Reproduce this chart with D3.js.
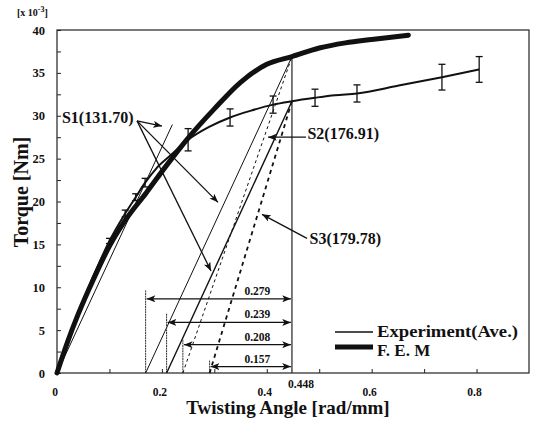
<!DOCTYPE html>
<html>
<head>
<meta charset="utf-8">
<script src="https://cdn.jsdelivr.net/npm/d3@7"></script>
<style>
  html, body { margin: 0; padding: 0; background: #fff; }
  svg text { font-family: "Liberation Serif", "DejaVu Serif", serif; font-weight: bold; fill: #111; }
</style>
</head>
<body>
<div id="chart"></div>
<script>
// chart values (torque in x10^-3 Nm, angle in rad/mm)
const femX = [0, 0.02, 0.04, 0.07, 0.10, 0.13, 0.17, 0.21, 0.25, 0.30, 0.35, 0.40, 0.448, 0.50, 0.55, 0.60, 0.67];
const femY = [0, 3.6, 6.8, 11.0, 14.8, 17.8, 21.0, 24.3, 27.4, 30.8, 33.9, 36.0, 36.9, 37.9, 38.5, 38.9, 39.4];

const expX = [0, 0.02, 0.04, 0.07, 0.10, 0.13, 0.15, 0.168, 0.19, 0.215, 0.25, 0.29, 0.33, 0.37, 0.412, 0.448, 0.492, 0.53, 0.572, 0.65, 0.734, 0.805];
const expY = [0, 3.7, 7.0, 11.4, 15.4, 18.6, 20.5, 22.2, 23.9, 25.3, 27.2, 28.7, 29.8, 30.6, 31.3, 31.7, 32.1, 32.4, 32.6, 33.5, 34.5, 35.4];

const errX = [0.10, 0.13, 0.15, 0.168, 0.25, 0.33, 0.412, 0.492, 0.572, 0.734, 0.805];
const errY = [15.4, 18.6, 20.5, 22.2, 27.2, 29.8, 31.3, 32.1, 32.6, 34.5, 35.4];
const errHalf = [0.3, 0.4, 0.4, 0.5, 1.3, 1.0, 1.0, 1.0, 1.0, 1.5, 1.5];

// S1 initial slope line from origin
const s1Slope = 131.70;
const s1End = 0.22;

// unloading lines: offsets from 0.448, target torque at 0.448, style
const refAngle = 0.448;
const offsets = ['0.279', '0.239', '0.208', '0.157'];
const offsetTargetY = [36.9, 31.7, 36.9, 31.7];
const offsetStyle = ['thin', 'solid', 'fine', 'thick'];
const offsetMarkTop = [9.7, 7.0, 3.9, 1.5];   // top of vertical marker
const offsetArrowY = [8.65, 5.9, 3.3, 0.75];  // dimension arrow height

// annotations (data coords)
const annoLabels = ['S1(131.70)', 'S2(176.91)', 'S3(179.78)'];
const annoTextX = [0.0095, 0.4775, 0.4815];
const annoTextY = [29.1, 27.3, 15.0];
const annoFrom = [[0.1526, 29.4], [0.1526, 29.4], [0.1526, 29.4], [0.4748, 27.5], [0.4767, 15.7]];
const annoTo = [[0.2002, 28.8], [0.307, 19.9], [0.2937, 11.9], [0.4024, 27.5], [0.3909, 18.5]];

const xTicksMinor = d3.range(1, 9).map(d => d / 10);
const xTickLabels = ['0', '0.2', '0.4', '0.448', '0.6', '0.8'];
const yTicksMinor = d3.range(0, 41, 2.5);
const yTickLabels = ['0', '5', '10', '15', '20', '25', '30', '35', '40'];

const legendNames = ['Experiment(Ave.)', 'F. E. M'];
const legendWidths = [1.5, 5];

const width = 534, height = 423;
const svg = d3.select('#chart').append('svg').attr('width', width).attr('height', height);

const x = d3.scaleLinear().domain([0, 0.9]).range([57, 529]);
const y = d3.scaleLinear().domain([0, 40]).range([373, 30]);

// arrowhead
const defs = svg.append('defs');
defs.append('marker')
  .attr('id', 'arr')
  .attr('viewBox', '0 0 10 8')
  .attr('refX', 10).attr('refY', 4)
  .attr('markerWidth', 9).attr('markerHeight', 7)
  .attr('markerUnits', 'userSpaceOnUse')
  .attr('orient', 'auto-start-reverse')
  .append('path').attr('d', 'M0,0 L10,4 L0,8 L2.5,4 z').attr('fill', '#111');

// frame
svg.append('rect')
  .attr('x', x(0)).attr('y', y(40))
  .attr('width', x(0.9) - x(0)).attr('height', y(0) - y(40))
  .attr('fill', 'none').attr('stroke', '#222').attr('stroke-width', 1.2);

// inward ticks
svg.append('g').attr('transform', `translate(0,${y(0)})`)
  .call(d3.axisBottom(x).tickValues(xTicksMinor).tickSize(-4).tickFormat(''))
  .call(g => g.select('.domain').remove())
  .selectAll('line').attr('stroke', '#222');
svg.append('g').attr('transform', `translate(${x(0)},0)`)
  .call(d3.axisLeft(y).tickValues(yTicksMinor).tickSize(-4).tickFormat(''))
  .call(g => g.select('.domain').remove())
  .selectAll('line').attr('stroke', '#222');

// tick labels
svg.append('g').selectAll('text').data(xTickLabels).join('text')
  .attr('x', d => x(+d) + (d === '0.448' ? 9 : -2))
  .attr('y', d => (d === '0.448' ? 388 : 396))
  .attr('text-anchor', 'middle')
  .attr('font-size', 11.5)
  .text(d => d);
svg.append('g').selectAll('text').data(yTickLabels).join('text')
  .attr('x', 45).attr('y', d => y(+d) + 4.5)
  .attr('text-anchor', 'end')
  .attr('font-size', 12.5)
  .text(d => d);

// axis titles
svg.append('text').attr('x', 288).attr('y', 414).attr('text-anchor', 'middle')
  .attr('font-size', 19).text('Twisting Angle [rad/mm]');
svg.append('text').attr('transform', 'translate(28,192) rotate(-90)').attr('text-anchor', 'middle')
  .attr('font-size', 20).text('Torque [Nm]');
const unit = svg.append('text').attr('x', 17).attr('y', 16).attr('font-size', 10);
unit.append('tspan').text('[x 10');
unit.append('tspan').attr('dy', -4).attr('font-size', 8).text('-3');
unit.append('tspan').attr('dy', 4).text(']');

// offset marker lines, dimension arrows, labels
const offG = svg.append('g');
offsets.forEach((o, i) => {
  const base = refAngle - (+o);
  offG.append('line')
    .attr('x1', x(base)).attr('x2', x(base))
    .attr('y1', y(0)).attr('y2', y(offsetMarkTop[i]))
    .attr('stroke', '#333').attr('stroke-width', 1).attr('stroke-dasharray', '2,0.6');
  offG.append('line')
    .attr('x1', x(base) + 1).attr('x2', x(refAngle) - 1)
    .attr('y1', y(offsetArrowY[i])).attr('y2', y(offsetArrowY[i]))
    .attr('stroke', '#111').attr('stroke-width', 1.2)
    .attr('marker-start', 'url(#arr)').attr('marker-end', 'url(#arr)');
  offG.append('text')
    .attr('x', x(0.382)).attr('y', y(offsetArrowY[i]) - 4)
    .attr('text-anchor', 'middle').attr('font-size', 11.5)
    .text(o);
  // unloading line
  const ln = offG.append('line')
    .attr('x1', x(base)).attr('y1', y(0))
    .attr('x2', x(refAngle)).attr('y2', y(offsetTargetY[i]))
    .attr('stroke', '#111');
  if (offsetStyle[i] === 'thin') ln.attr('stroke-width', 1);
  if (offsetStyle[i] === 'solid') ln.attr('stroke-width', 1.4);
  if (offsetStyle[i] === 'fine') ln.attr('stroke-width', 1).attr('stroke-dasharray', '3,3');
  if (offsetStyle[i] === 'thick') ln.attr('stroke-width', 1.8).attr('stroke-dasharray', '4,4');
});

// vertical line at 0.448
svg.append('line')
  .attr('x1', x(refAngle)).attr('x2', x(refAngle))
  .attr('y1', y(0)).attr('y2', y(offsetTargetY[0]))
  .attr('stroke', '#222').attr('stroke-width', 1.2);

// S1 line from origin
svg.append('line')
  .attr('x1', x(0)).attr('y1', y(0))
  .attr('x2', x(s1End)).attr('y2', y(s1Slope * s1End))
  .attr('stroke', '#111').attr('stroke-width', 1);

// curves
const line = d3.line().x(d => x(d[0])).y(d => y(d[1])).curve(d3.curveMonotoneX);
svg.append('path').datum(d3.zip(femX, femY)).attr('d', line)
  .attr('fill', 'none').attr('stroke', '#111').attr('stroke-width', 5).attr('stroke-linecap', 'round');
svg.append('path').datum(d3.zip(expX, expY)).attr('d', line)
  .attr('fill', 'none').attr('stroke', '#111').attr('stroke-width', 2);

// error bars
const eb = svg.append('g').attr('stroke', '#111').attr('stroke-width', 1.3);
errX.forEach((ex, i) => {
  const lo = y(errY[i] - errHalf[i]), hi = y(errY[i] + errHalf[i]);
  eb.append('line').attr('x1', x(ex)).attr('x2', x(ex)).attr('y1', lo).attr('y2', hi);
  eb.append('line').attr('x1', x(ex) - 3.5).attr('x2', x(ex) + 3.5).attr('y1', lo).attr('y2', lo);
  eb.append('line').attr('x1', x(ex) - 3.5).attr('x2', x(ex) + 3.5).attr('y1', hi).attr('y2', hi);
});

// annotation arrows
annoFrom.forEach((f, i) => {
  svg.append('line')
    .attr('x1', x(f[0])).attr('y1', y(f[1]))
    .attr('x2', x(annoTo[i][0])).attr('y2', y(annoTo[i][1]))
    .attr('stroke', '#111').attr('stroke-width', 1.3)
    .attr('marker-end', 'url(#arr)');
});
annoLabels.forEach((t, i) => {
  svg.append('text').attr('x', x(annoTextX[i])).attr('y', y(annoTextY[i]))
    .attr('font-size', 16).text(t);
});

// legend
const lg = svg.append('g');
legendNames.forEach((n, i) => {
  const ly = 332 + i * 15;
  lg.append('line').attr('x1', 335).attr('x2', 373).attr('y1', ly).attr('y2', ly)
    .attr('stroke', '#111').attr('stroke-width', legendWidths[i]);
  lg.append('text').attr('x', 377).attr('y', 337 + i * 19).attr('font-size', 17)
    .attr('textLength', i === 0 ? 141 : null).attr('lengthAdjust', 'spacingAndGlyphs')
    .text(n);
});
</script>
</body>
</html>
